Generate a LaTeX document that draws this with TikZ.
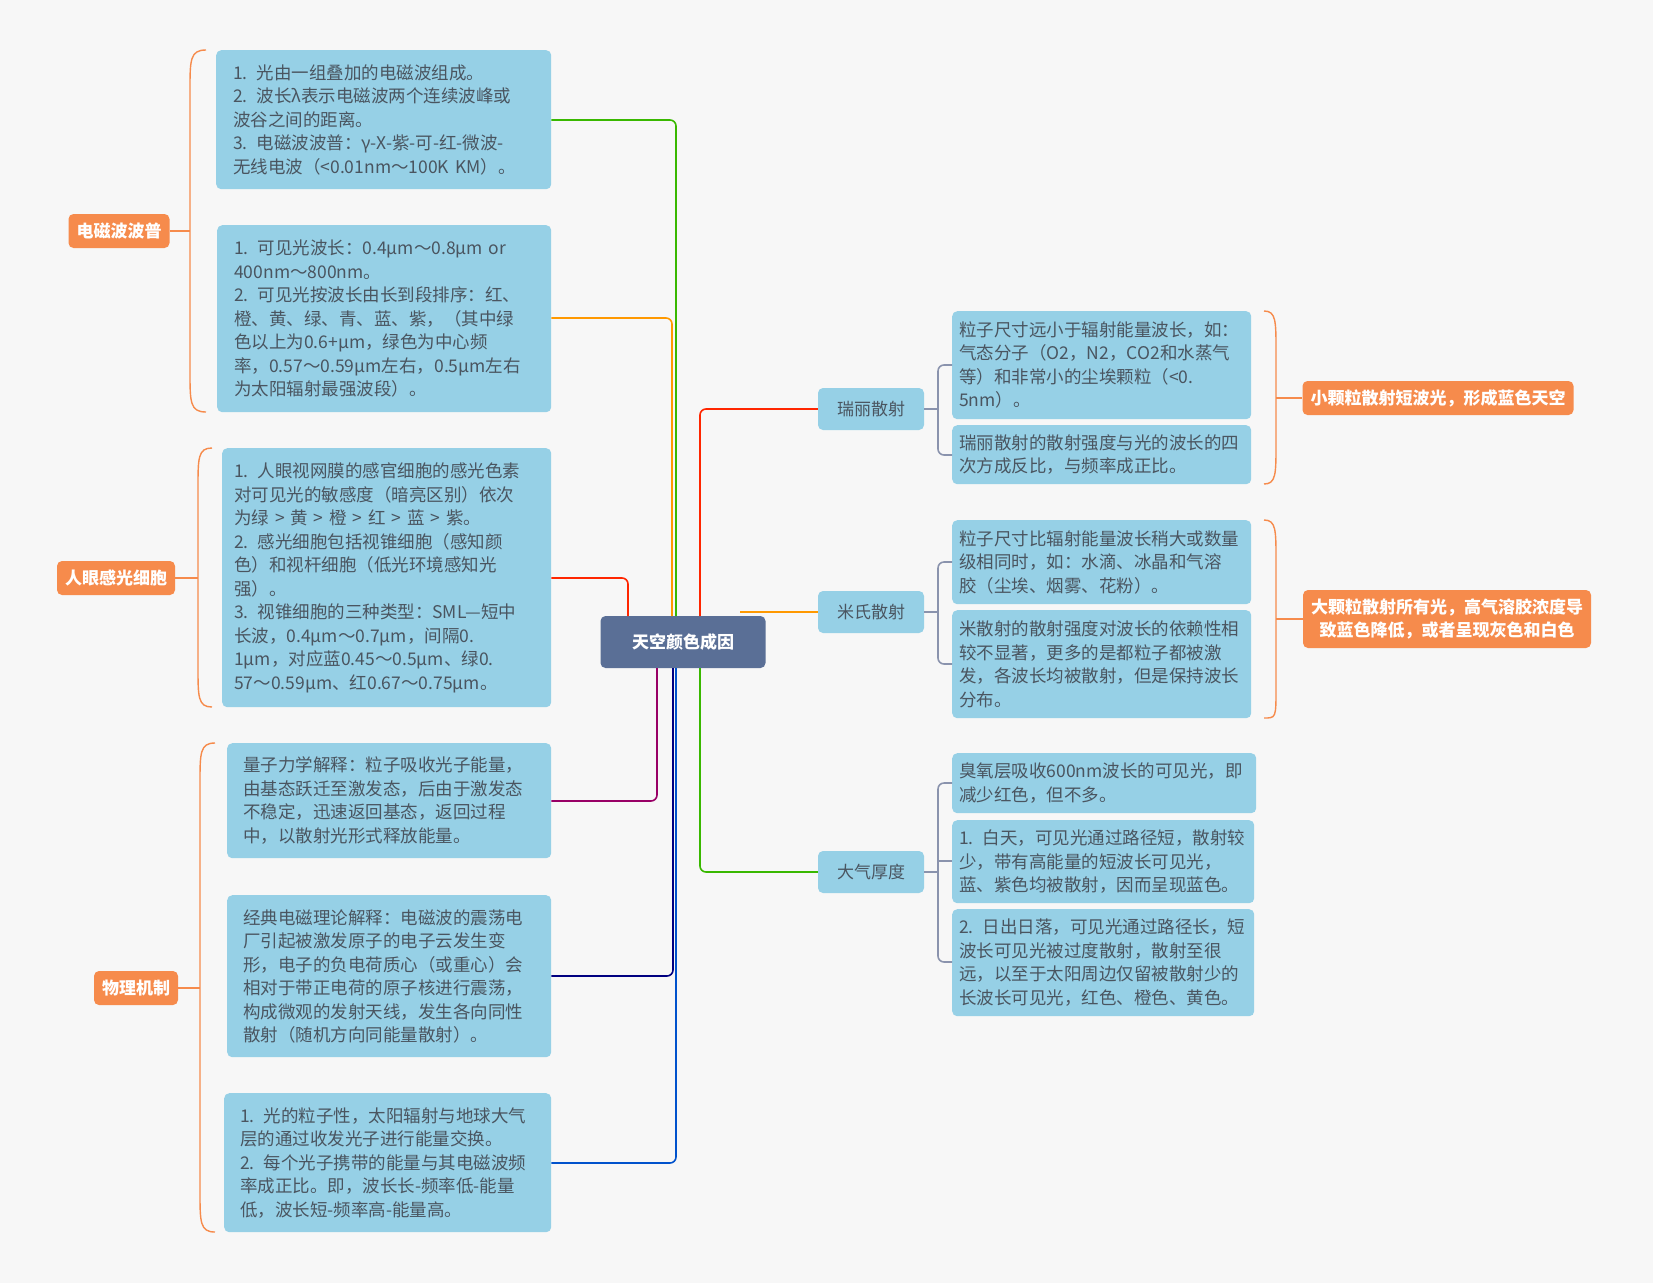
\documentclass[tikz,border=0pt]{standalone}
\usepackage{fontspec}
\setmainfont{Noto Sans CJK SC}
\usetikzlibrary{positioning,calc}
\definecolor{bgc}{HTML}{F7F7F7}
\definecolor{leafc}{HTML}{96D0E6}
\definecolor{txtc}{HTML}{4A5560}
\definecolor{rootc}{HTML}{5A6F96}
\definecolor{tagc}{HTML}{F68B4C}
\definecolor{linkc}{HTML}{8A93AD}
\tikzset{
  leaf/.style={fill=leafc, text=txtc, rounded corners=5pt, anchor=north west,
    align=left, inner xsep=7pt, inner ysep=5pt, font=\fontsize{17.5}{23.5}\selectfont},
  tag/.style={fill=tagc, text=white, rounded corners=5pt, align=center,
    font=\fontsize{17}{22}\selectfont\bfseries, inner xsep=8pt, minimum height=34pt},
  mid/.style={fill=leafc, text=txtc, rounded corners=5pt, minimum width=106pt,
    minimum height=42pt, font=\fontsize{17}{22}\selectfont},
  root/.style={fill=rootc, text=white, rounded corners=5pt, minimum width=165pt,
    minimum height=52pt, font=\fontsize{17}{22}\selectfont\bfseries},
  link/.style={line width=1.6pt, rounded corners=6pt},
  brace/.style={tagc, line width=1.4pt},
  twig/.style={linkc, line width=1.6pt, rounded corners=6pt}
}
\begin{document}
\begin{tikzpicture}[x=1pt,y=-1pt]
\fill[bgc] (0,0) rectangle (1653,1283);
\useasboundingbox (0,0) rectangle (1653,1283);

% root
\node[root] (sky) at (683,642) {天空颜色成因};

% left side
\node[leaf, text width=301pt, minimum height=139pt, inner xsep=17pt] (wave1) at (216,50)
  {1. 光由一组叠加的电磁波组成。\\2. 波长λ表示电磁波两个连续波峰或\\波谷之间的距离。\\3. 电磁波波普：γ-X-紫-可-红-微波-\\无线电波（<0.01nm～100K KM）。};
\node[leaf, text width=300pt, minimum height=187pt, inner xsep=17pt] (wave2) at (217,225)
  {1. 可见光波长：0.4μm～0.8μm or\\400nm～800nm。\\2. 可见光按波长由长到段排序：红、\\橙、黄、绿、青、蓝、紫，（其中绿\\色以上为0.6+μm，绿色为中心频\\率，0.57～0.59μm左右，0.5μm左右\\为太阳辐射最强波段）。};
\node[leaf, text width=305pt, minimum height=259pt, inner xsep=12pt] (eye1) at (222,448)
  {1. 人眼视网膜的感官细胞的感光色素\\对可见光的敏感度（暗亮区别）依次\\为绿 > 黄 > 橙 > 红 > 蓝 > 紫。\\2. 感光细胞包括视锥细胞（感知颜\\色）和视杆细胞（低光环境感知光\\强）。\\3. 视锥细胞的三种类型：SML—短中\\长波，0.4μm～0.7μm，间隔0.\\1μm，对应蓝0.45～0.5μm、绿0.\\57～0.59μm、红0.67～0.75μm。};
\node[leaf, text width=292pt, minimum height=115pt, inner xsep=16pt] (phy1) at (227,743)
  {量子力学解释：粒子吸收光子能量，\\由基态跃迁至激发态，后由于激发态\\不稳定，迅速返回基态，返回过程\\中，以散射光形式释放能量。};
\node[leaf, text width=292pt, minimum height=162pt, inner xsep=16pt] (phy2) at (227,895)
  {经典电磁理论解释：电磁波的震荡电\\厂引起被激发原子的电子云发生变\\形，电子的负电荷质心（或重心）会\\相对于带正电荷的原子核进行震荡，\\构成微观的发射天线，发生各向同性\\散射（随机方向同能量散射）。};
\node[leaf, text width=295pt, minimum height=139pt, inner xsep=16pt] (phy3) at (224,1093)
  {1. 光的粒子性，太阳辐射与地球大气\\层的通过收发光子进行能量交换。\\2. 每个光子携带的能量与其电磁波频\\率成正比。即，波长长-频率低-能量\\低，波长短-频率高-能量高。};

\node[tag] (wavetag) at (119,231) {电磁波波普};
\node[tag] (eyetag) at (116,578) {人眼感光细胞};
\node[tag] (phytag) at (136,988) {物理机制};

\draw[brace] (206,50) .. controls (190,50) and (190,60) .. (190,90) -- (190,372) .. controls (190,402) and (190,412) .. (206,412);
\draw[brace] (wavetag.east) -- (190,231);
\draw[brace] (212,448) .. controls (198,448) and (198,458) .. (198,488) -- (198,667) .. controls (198,697) and (198,707) .. (212,707);
\draw[brace] (eyetag.east) -- (198,578);
\draw[brace] (215,743) .. controls (200,743) and (200,753) .. (200,783) -- (200,1192) .. controls (200,1222) and (200,1232) .. (215,1232);
\draw[brace] (phytag.east) -- (200,988);

% right side
\node[mid] (rayl) at (871,409) {瑞丽散射};
\node[mid] (mie) at (871,612) {米氏散射};
\node[mid] (atmo) at (871,872) {大气厚度};

\node[leaf, text width=285pt, minimum height=108pt] (ray1) at (952,311)
  {粒子尺寸远小于辐射能量波长，如：\\气态分子（O2，N2，CO2和水蒸气\\等）和非常小的尘埃颗粒（<0.\\5nm）。};
\node[leaf, text width=285pt, minimum height=59pt] (ray2) at (952,425)
  {瑞丽散射的散射强度与光的波长的四\\次方成反比，与频率成正比。};
\node[leaf, text width=285pt, minimum height=84pt] (mie1) at (952,520)
  {粒子尺寸比辐射能量波长稍大或数量\\级相同时，如：水滴、冰晶和气溶\\胶（尘埃、烟雾、花粉）。};
\node[leaf, text width=285pt, minimum height=108pt] (mie2) at (952,610)
  {米散射的散射强度对波长的依赖性相\\较不显著，更多的是都粒子都被激\\发，各波长均被散射，但是保持波长\\分布。};
\node[leaf, text width=290pt, minimum height=60pt] (atm1) at (952,753)
  {臭氧层吸收600nm波长的可见光，即\\减少红色，但不多。};
\node[leaf, text width=288pt, minimum height=83pt] (atm2) at (952,820)
  {1. 白天，可见光通过路径短，散射较\\少，带有高能量的短波长可见光，\\蓝、紫色均被散射，因而呈现蓝色。};
\node[leaf, text width=288pt, minimum height=107pt] (atm3) at (952,909)
  {2. 日出日落，可见光通过路径长，短\\波长可见光被过度散射，散射至很\\远，以至于太阳周边仅留被散射少的\\长波长可见光，红色、橙色、黄色。};

\node[tag] (smalltag) at (1438,398) {小颗粒散射短波光，形成蓝色天空};
\node[tag, minimum height=58pt, font=\fontsize{17}{23}\selectfont\bfseries] (bigtag) at (1447,619)
  {大颗粒散射所有光，高气溶胶浓度导\\致蓝色降低，或者呈现灰色和白色};

\draw[brace] (1264,311) .. controls (1276,311) and (1276,321) .. (1276,351) -- (1276,444) .. controls (1276,474) and (1276,484) .. (1264,484);
\draw[brace] (1276,398) -- (smalltag.west);
\draw[brace] (1264,520) .. controls (1276,520) and (1276,530) .. (1276,560) -- (1276,688) .. controls (1276,718) and (1276,718) .. (1264,718);
\draw[brace] (1276,619) -- (bigtag.west);

% connectors from root
\draw[link, green!60!black!70!lime] (wave1.east |- 0,120) -- (676,120) -- (676,616);
\draw[link, orange!80!yellow] (wave2.east |- 0,318) -- (672,318) -- (672,616);
\draw[link, red!70!orange] (eye1.east |- 0,578) -- (628,578) -- (628,616);
\draw[link, violet!80!red] (phy1.east |- 0,801) -- (657,801) -- (657,668);
\draw[link, blue!50!black] (phy2.east |- 0,976) -- (673,976) -- (673,668);
\draw[link, blue!60!cyan!80!black] (phy3.east |- 0,1163) -- (676,1163) -- (676,668);
\draw[link, red!70!orange] (700,616) -- (700,409) -- (rayl.west);
\draw[link, orange!80!yellow] (740,612) -- (mie.west);
\draw[link, green!60!black!70!lime] (700,668) -- (700,872) -- (atmo.west);

% twigs
\draw[twig] (rayl.east) -- (938,409);
\draw[twig] (952,365) -- (938,365) -- (938,455) -- (952,455);
\draw[twig] (mie.east) -- (938,612);
\draw[twig] (952,562) -- (938,562) -- (938,664) -- (952,664);
\draw[twig] (atmo.east) -- (938,872);
\draw[twig] (952,783) -- (938,783) -- (938,962) -- (952,962);
\draw[twig] (938,861) -- (952,861);
\end{tikzpicture}
\end{document}
